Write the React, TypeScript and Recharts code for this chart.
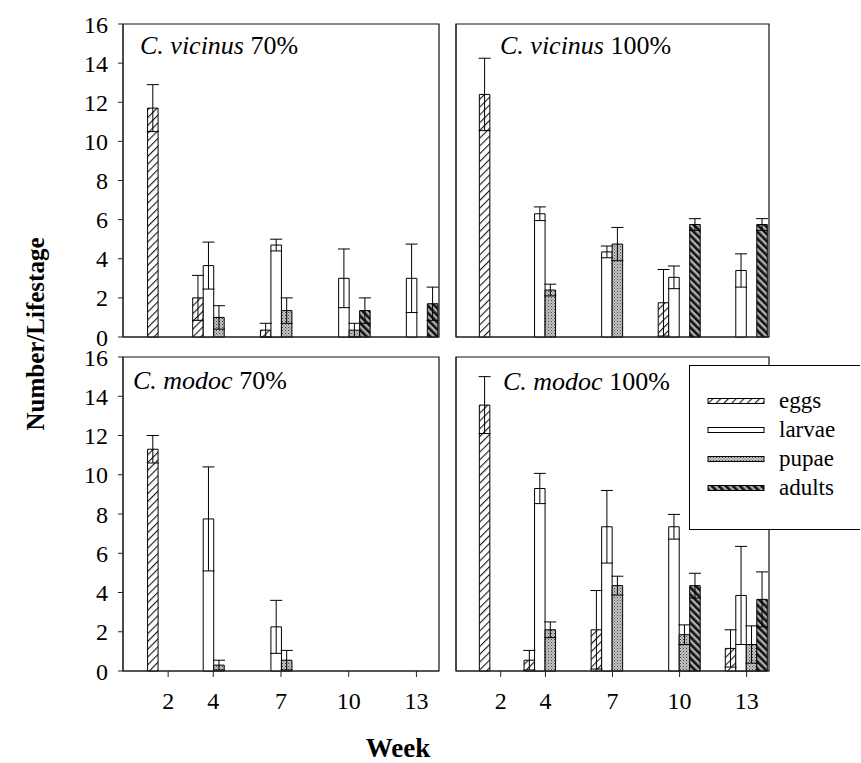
import React from 'react';
import { BarChart, Bar, XAxis, YAxis, ErrorBar, ReferenceArea, Legend } from 'recharts';

const weeks = [2, 4, 7, 10, 13];
const weekTicks = [2, 4, 7, 10, 13];
const yTicks = [0, 2, 4, 6, 8, 10, 12, 14, 16];
const stageNames = ['eggs', 'larvae', 'pupae', 'adults'];

// C. vicinus 70%
const vic70Eggs = [11.7, 2.0, 0.35, 0, 0];
const vic70EggsErr = [1.2, 1.15, 0.35, 0, 0];
const vic70Larvae = [0, 3.65, 4.7, 3.0, 3.0];
const vic70LarvaeErr = [0, 1.2, 0.3, 1.5, 1.75];
const vic70Pupae = [0, 1.0, 1.35, 0.35, 0];
const vic70PupaeErr = [0, 0.6, 0.65, 0.35, 0];
const vic70Adults = [0, 0, 0, 1.35, 1.7];
const vic70AdultsErr = [0, 0, 0, 0.65, 0.85];

// C. vicinus 100%
const vic100Eggs = [12.4, 0, 0, 1.75, 0];
const vic100EggsErr = [1.85, 0, 0, 1.7, 0];
const vic100Larvae = [0, 6.3, 4.35, 3.05, 3.4];
const vic100LarvaeErr = [0, 0.35, 0.3, 0.58, 0.85];
const vic100Pupae = [0, 2.4, 4.75, 0, 0];
const vic100PupaeErr = [0, 0.3, 0.85, 0, 0];
const vic100Adults = [0, 0, 0, 5.75, 5.75];
const vic100AdultsErr = [0, 0, 0, 0.3, 0.3];

// C. modoc 70%
const mod70Eggs = [11.3, 0, 0, 0, 0];
const mod70EggsErr = [0.7, 0, 0, 0, 0];
const mod70Larvae = [0, 7.75, 2.25, 0, 0];
const mod70LarvaeErr = [0, 2.65, 1.35, 0, 0];
const mod70Pupae = [0, 0.3, 0.55, 0, 0];
const mod70PupaeErr = [0, 0.25, 0.5, 0, 0];
const mod70Adults = [0, 0, 0, 0, 0];
const mod70AdultsErr = [0, 0, 0, 0, 0];

// C. modoc 100%
const mod100Eggs = [13.55, 0.55, 2.1, 0, 1.15];
const mod100EggsErr = [1.45, 0.5, 2.0, 0, 0.95];
const mod100Larvae = [0, 9.3, 7.35, 7.35, 3.85];
const mod100LarvaeErr = [0, 0.77, 1.85, 0.63, 2.5];
const mod100Pupae = [0, 2.1, 4.35, 1.85, 1.35];
const mod100PupaeErr = [0, 0.4, 0.48, 0.5, 0.95];
const mod100Adults = [0, 0, 0, 4.35, 3.65];
const mod100AdultsErr = [0, 0, 0, 0.63, 1.4];

const FONT = 'Liberation Serif';
const fills: Record<string, string> = {
  eggs: 'url(#pEggs)',
  larvae: '#ffffff',
  pupae: 'url(#pPupae)',
  adults: 'url(#pAdults)',
};

function buildData(e: number[], ee: number[], l: number[], le: number[], p: number[], pe: number[], a: number[], ae: number[]) {
  return weeks.map((w, i) => ({
    week: w,
    eggs: e[i], eggsErr: ee[i],
    larvae: l[i], larvaeErr: le[i],
    pupae: p[i], pupaeErr: pe[i],
    adults: a[i], adultsErr: ae[i],
  }));
}

const LegendBox = () => (
  <div
    style={{
      width: 171,
      height: 165,
      boxSizing: 'border-box',
      border: '1.5px solid #000',
      borderRight: 'none',
      background: '#fff',
      fontFamily: FONT,
      fontSize: 23,
      paddingTop: 20,
    }}
  >
    {stageNames.map((s) => (
      <div key={s} style={{ display: 'flex', alignItems: 'center', height: 29 }}>
        <svg width={72} height={10} style={{ marginLeft: 17 }}>
          <rect x={1} y={2.5} width={56} height={5} fill={fills[s]} stroke="#000" strokeWidth={1} />
        </svg>
        <span style={{ marginLeft: 0, lineHeight: '29px' }}>{s}</span>
      </div>
    ))}
  </div>
);

type PanelProps = {
  data: any[];
  left: number;
  top: number;
  width: number;
  height: number;
  margin: { top: number; right: number; left: number; bottom: number };
  yAxisWidth: number;
  showYLabels: boolean;
  showXLabels: boolean;
  xAxisHeight: number;
  legend?: boolean;
};

const Panel = (p: PanelProps) => (
  <div style={{ position: 'absolute', left: p.left, top: p.top }}>
    <BarChart
      width={p.width}
      height={p.height}
      data={p.data}
      margin={p.margin}
      barSize={10.5}
      barGap={0}
      style={{ fontFamily: FONT }}
    >
      <XAxis
        type="number"
        dataKey="week"
        domain={[0, 14]}
        ticks={weekTicks}
        interval={0}
        height={p.xAxisHeight}
        tickSize={6}
        tickMargin={15}
        tick={p.showXLabels ? { fill: '#000', fontSize: 24, fontFamily: FONT } : false}
        axisLine={{ stroke: '#222', strokeWidth: 1 }}
        tickLine={{ stroke: '#222', strokeWidth: 1 }}
        allowDataOverflow
      />
      <YAxis
        type="number"
        domain={[0, 16]}
        ticks={yTicks}
        interval={0}
        width={p.yAxisWidth}
        tickSize={5}
        tickMargin={10}
        tick={p.showYLabels ? { fill: '#000', fontSize: 24, fontFamily: FONT } : false}
        axisLine={{ stroke: '#222', strokeWidth: 1 }}
        tickLine={{ stroke: '#222', strokeWidth: 1 }}
      />
      <ReferenceArea x1={0} x2={14} y1={0} y2={16} fill="none" fillOpacity={0} stroke="#111" strokeWidth={1.2} />
      {stageNames.map((s) => (
        <Bar key={s} dataKey={s} fill={fills[s]} stroke="#000" strokeWidth={1} isAnimationActive={false}>
          <ErrorBar dataKey={`${s}Err`} width={6} stroke="#000" strokeWidth={1} direction="y" />
        </Bar>
      ))}
      {p.legend ? (
        <Legend
          layout="vertical"
          align="center"
          verticalAlign="middle"
          content={() => <LegendBox />}
          wrapperStyle={{ position: 'absolute', left: 243, top: 20, width: 171, height: 165 }}
        />
      ) : null}
    </BarChart>
  </div>
);

const Title = ({ x, y, sp, pct }: { x: number; y: number; sp: string; pct: string }) => (
  <text x={x} y={y} fontFamily={FONT} fontSize={26} fill="#000">
    <tspan fontStyle="italic">{sp}</tspan>
    <tspan>{' ' + pct}</tspan>
  </text>
);

export default function App() {
  const dVic70 = buildData(vic70Eggs, vic70EggsErr, vic70Larvae, vic70LarvaeErr, vic70Pupae, vic70PupaeErr, vic70Adults, vic70AdultsErr);
  const dVic100 = buildData(vic100Eggs, vic100EggsErr, vic100Larvae, vic100LarvaeErr, vic100Pupae, vic100PupaeErr, vic100Adults, vic100AdultsErr);
  const dMod70 = buildData(mod70Eggs, mod70EggsErr, mod70Larvae, mod70LarvaeErr, mod70Pupae, mod70PupaeErr, mod70Adults, mod70AdultsErr);
  const dMod100 = buildData(mod100Eggs, mod100EggsErr, mod100Larvae, mod100LarvaeErr, mod100Pupae, mod100PupaeErr, mod100Adults, mod100AdultsErr);

  return (
    <div style={{ position: 'absolute', left: 0, top: 0, width: 861, height: 763, background: '#fff', overflow: 'hidden', fontFamily: FONT }}>
      <svg width={0} height={0} style={{ position: 'absolute' }}>
        <defs>
          <pattern id="pEggs" patternUnits="userSpaceOnUse" width={5.5} height={5.5} patternTransform="rotate(45)">
            <rect width={5.5} height={5.5} fill="#fff" />
            <line x1={0.6} y1={0} x2={0.6} y2={5.5} stroke="#000" strokeWidth={1} />
          </pattern>
          <pattern id="pPupae" patternUnits="userSpaceOnUse" width={3} height={3}>
            <rect width={3} height={3} fill="#c4c4c4" />
            <rect x={0} y={0} width={1} height={1} fill="#444" />
            <rect x={1.5} y={1.5} width={1} height={1} fill="#6a6a6a" />
          </pattern>
          <pattern id="pAdults" patternUnits="userSpaceOnUse" width={5} height={5} patternTransform="rotate(-45)">
            <rect width={5} height={5} fill="#b0b0b0" />
            <rect x={0} y={0} width={2.6} height={5} fill="#111" />
          </pattern>
        </defs>
      </svg>

      <Panel data={dVic70} left={0} top={0} width={445} height={355}
        margin={{ top: 24, right: 6, left: 53, bottom: 0 }} yAxisWidth={70}
        showYLabels showXLabels={false} xAxisHeight={18} />
      <Panel data={dVic100} left={446} top={0} width={329} height={355}
        margin={{ top: 24, right: 6, left: 0, bottom: 0 }} yAxisWidth={10}
        showYLabels={false} showXLabels={false} xAxisHeight={18} />
      <Panel data={dMod70} left={0} top={345} width={445} height={385}
        margin={{ top: 12, right: 6, left: 53, bottom: 0 }} yAxisWidth={70}
        showYLabels showXLabels xAxisHeight={59} />
      <Panel data={dMod100} left={446} top={345} width={329} height={385}
        margin={{ top: 12, right: 6, left: 0, bottom: 0 }} yAxisWidth={10}
        showYLabels={false} showXLabels xAxisHeight={59} legend />

      <svg width={861} height={763} style={{ position: 'absolute', left: 0, top: 0, pointerEvents: 'none' }}>
        <Title x={140} y={54} sp="C. vicinus" pct="70%" />
        <Title x={500} y={54} sp="C. vicinus" pct="100%" />
        <Title x={133} y={389} sp="C. modoc" pct="70%" />
        <Title x={503} y={390} sp="C. modoc" pct="100%" />
        <text
          transform="translate(44, 334) rotate(-90)"
          textAnchor="middle"
          fontFamily={FONT}
          fontWeight="bold"
          fontSize={25}
          fill="#000"
        >
          Number/Lifestage
        </text>
        <text x={398} y={757} textAnchor="middle" fontFamily={FONT} fontWeight="bold" fontSize={27} fill="#000">
          Week
        </text>
      </svg>
    </div>
  );
}
